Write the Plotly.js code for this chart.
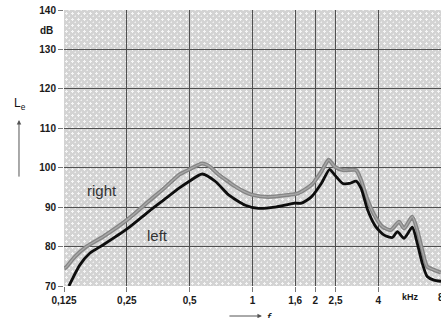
<!DOCTYPE html>
<html>
<head>
<meta charset="utf-8">
<script src="https://cdn.plot.ly/plotly-3.0.1.min.js"></script>
<style>
html,body{margin:0;padding:0;background:#fff;}
#chart{width:441px;height:318px;}
</style>
</head>
<body>
<div id="chart"></div>
<script>
// Frequencies in kHz, levels in dB
const freqRight = [0.125, 0.1286, 0.1408, 0.1601, 0.1922, 0.2524, 0.3201, 0.3774, 0.4449, 0.5, 0.5738, 0.62, 0.6891, 0.7686, 0.8276, 0.9234, 1.0, 1.191, 1.483, 1.655, 1.914, 2.136, 2.316, 2.473, 2.709, 3.133, 3.31, 3.562, 3.833, 4.198, 4.598, 5.038, 5.322, 5.829, 6.157, 6.503, 6.87, 7.393, 8.0];
const levelRight = [74.4, 74.9, 77.4, 80.0, 82.5, 86.9, 91.6, 94.8, 98.2, 99.6, 101.1, 100.4, 98.2, 96.4, 95.2, 93.8, 93.1, 92.6, 93.1, 93.5, 95.6, 99.0, 102.0, 100.3, 99.4, 99.4, 96.9, 91.8, 88.0, 85.0, 84.2, 86.3, 84.6, 87.6, 84.2, 79.1, 74.9, 74.1, 73.4];
const freqLeft = [0.132, 0.1487, 0.1661, 0.1922, 0.2524, 0.3201, 0.3774, 0.4449, 0.4962, 0.5738, 0.6648, 0.7686, 0.9234, 1.068, 1.282, 1.596, 1.716, 1.914, 2.136, 2.342, 2.473, 2.709, 2.915, 3.133, 3.31, 3.562, 3.901, 4.276, 4.682, 4.945, 5.322, 5.829, 6.157, 6.503, 6.87, 7.393, 8.0];
const levelLeft = [70.0, 75.3, 78.3, 80.4, 84.6, 89.0, 91.9, 94.8, 96.5, 98.4, 96.5, 93.1, 90.5, 89.7, 90.0, 91.0, 91.0, 92.6, 96.0, 99.6, 98.2, 96.0, 96.0, 96.6, 94.8, 89.3, 85.0, 82.9, 82.3, 83.8, 82.1, 84.9, 80.8, 75.8, 72.4, 71.5, 71.2];
const xTickVals = [0.125, 0.25, 0.5, 1, 1.6, 2, 2.5, 4, 8];
const xTickText = ['0,125', '0,25', '0,5', '1', '1,6', '2', '2,5', '4', '8'];
const yTickVals = [70, 80, 90, 100, 110, 120, 130, 140];
const yTickText = ['70', '80', '90', '100', '110', '120', '130', '140'];
const seriesNames = ['right', 'left'];

const patternSvg = '<svg xmlns="http://www.w3.org/2000/svg" width="377" height="276" preserveAspectRatio="none">' +
  '<defs><pattern id="p" width="6" height="6" patternUnits="userSpaceOnUse">' +
  '<rect width="6" height="6" fill="#d3d3d3"/>' +
  '<rect x="1" y="3" width="3" height="1" fill="#f6f6f6"/>' +
  '<rect x="2" y="2" width="1" height="3" fill="#f6f6f6"/>' +
  '<rect x="5" y="0" width="1" height="1" fill="#efefef"/>' +
  '<rect x="4" y="0" width="1" height="1" fill="#e2e2e2"/>' +
  '<rect x="5" y="5" width="1" height="1" fill="#e2e2e2"/>' +
  '</pattern></defs><rect width="377" height="276" fill="url(#p)"/></svg>';
const patternUri = 'data:image/svg+xml;base64,' + btoa(patternSvg);

const traces = [
  {x: freqRight, y: levelRight, name: seriesNames[0], type: 'scatter', mode: 'lines',
   line: {color: '#858585', width: 4, shape: 'spline', smoothing: 0.6}},
  {x: freqRight, y: levelRight, name: seriesNames[0], type: 'scatter', mode: 'lines',
   line: {color: '#a9a9a9', width: 1.3, shape: 'spline', smoothing: 0.6}},
  {x: freqLeft, y: levelLeft, name: seriesNames[1], type: 'scatter', mode: 'lines',
   line: {color: '#0d0d0d', width: 2.8, shape: 'spline', smoothing: 0.6}}
];

const tickFont = {family: 'Liberation Sans, Arial, sans-serif', size: 10, color: '#1a1a1a', weight: 'bold'};

const layout = {
  width: 441, height: 318,
  margin: {l: 64, r: 0, t: 10, b: 32, pad: 0},
  paper_bgcolor: '#ffffff',
  plot_bgcolor: 'rgba(0,0,0,0)',
  showlegend: false,
  xaxis: {
    type: 'log',
    range: [Math.log10(0.125), Math.log10(8)],
    tickmode: 'array', tickvals: xTickVals, ticktext: xTickText,
    showgrid: true, gridcolor: '#505050', gridwidth: 1,
    ticks: 'outside', ticklen: 5, tickcolor: '#777', tickwidth: 1,
    tickfont: tickFont, zeroline: false, showline: false
  },
  yaxis: {
    range: [70, 140],
    tickmode: 'array', tickvals: yTickVals, ticktext: yTickText,
    showgrid: true, gridcolor: '#505050', gridwidth: 1,
    ticks: 'outside', ticklen: 5, tickcolor: '#777', tickwidth: 1,
    tickfont: tickFont, zeroline: false, showline: false
  },
  images: [{source: patternUri, xref: 'paper', yref: 'paper', x: 0, y: 1,
            sizex: 1, sizey: 1, sizing: 'stretch', xanchor: 'left', yanchor: 'top', layer: 'below'}],
  annotations: [
    {text: 'right', x: Math.log10(0.1895), y: 94.3, xref: 'x', yref: 'y', showarrow: false,
     font: {family: 'Liberation Sans, Arial, sans-serif', size: 15, color: '#333'}},
    {text: 'left', x: Math.log10(0.3496), y: 82.7, xref: 'x', yref: 'y', showarrow: false,
     font: {family: 'Liberation Sans, Arial, sans-serif', size: 15, color: '#333'}},
    {text: 'dB', xref: 'paper', yref: 'paper', x: -0.024, y: 0.9275, xanchor: 'right', yanchor: 'middle',
     showarrow: false, font: tickFont},
    {text: 'kHz', xref: 'paper', yref: 'paper', x: 0.918, y: -0.04, xanchor: 'center', yanchor: 'middle',
     showarrow: false, font: {family: 'Liberation Sans, Arial, sans-serif', size: 9, color: '#1a1a1a', weight: 'bold'}},
    {text: '8', xref: 'paper', yref: 'paper', x: 1.0, y: -0.04, xanchor: 'center', yanchor: 'middle',
     showarrow: false, font: tickFont},
    {text: 'L<sub>e</sub>', xref: 'paper', yref: 'paper', x: -0.117, y: 0.66, xanchor: 'center', yanchor: 'middle',
     showarrow: false, font: {family: 'Liberation Sans, Arial, sans-serif', size: 12, color: '#111'}},
    {text: '', xref: 'paper', yref: 'paper', x: -0.1194, y: 0.601, ax: 0, ay: 58,
     showarrow: true, arrowhead: 2, arrowsize: 0.9, arrowwidth: 1, arrowcolor: '#555'},
    {text: '', xref: 'paper', yref: 'paper', x: 0.525, y: -0.1087, ax: -34, ay: 0,
     showarrow: true, arrowhead: 2, arrowsize: 0.9, arrowwidth: 1, arrowcolor: '#555'},
    {text: '<i>f</i>', xref: 'paper', yref: 'paper', x: 0.5464, y: -0.08, xanchor: 'center', yanchor: 'top',
     showarrow: false, font: {family: 'Liberation Sans, Arial, sans-serif', size: 13, color: '#111'}}
  ]
};

Plotly.newPlot('chart', traces, layout, {displayModeBar: false, staticPlot: true});
</script>
</body>
</html>
